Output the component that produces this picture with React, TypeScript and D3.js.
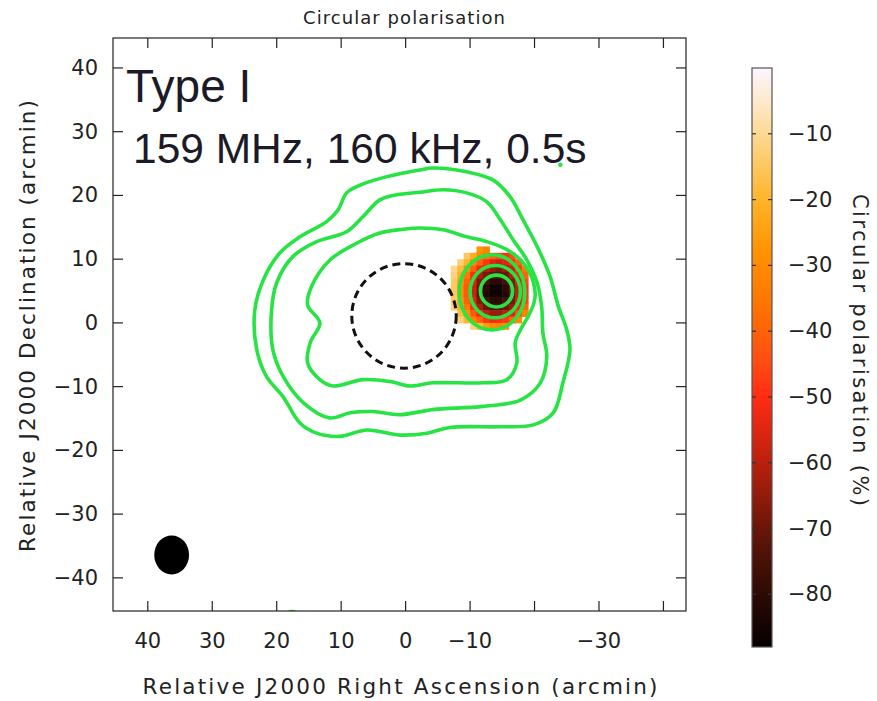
import { select, scaleLinear, line, curveCatmullRomClosed } from "d3";
import { useEffect, useRef } from "react";

// axis ticks (arcmin)
const raTicks = [40, 30, 20, 10, 0, -10, -20, -30, -40];
const raLabels = ["40", "30", "20", "10", "0", "−10", "", "−30", ""];
const decTicks = [40, 30, 20, 10, 0, -10, -20, -30, -40];
const decLabels = ["40", "30", "20", "10", "0", "−10", "−20", "−30", "−40"];
const cbTicks = [-10, -20, -30, -40, -50, -60, -70, -80];

// colour map for circular polarisation (%)
const cmapValues = [0, -5, -12, -20, -28, -36, -44, -50, -56, -64, -72, -80, -88];
const cmapColours = ["#fbf6ff", "#fde9cc", "#fdd27e", "#ffb42a", "#ff9200", "#ff7400",
  "#ff5010", "#ff2c14", "#d82410", "#9a1c0a", "#5a1408", "#2c0a04", "#050000"];

// Stokes I contours, [RA, Dec] arcmin
const outerContour = [
  [23.4, 2.0], [22.1, 6.7], [19.5, 11.0], [16.4, 13.5], [12.25, 15.9], [10.5, 17.7],
  [9.15, 20.4], [7.1, 21.6], [2.9, 22.95], [-2.2, 24.0], [-4.25, 24.3], [-9.5, 23.7],
  [-13.6, 22.4], [-16.2, 19.8], [-18.2, 16.2], [-20.4, 12.0], [-22.4, 7.3], [-23.7, 2.6],
  [-25.0, -1.1], [-25.5, -4.2], [-24.4, -9.4], [-22.9, -14.1], [-19.8, -16.0], [-14.7, -16.3],
  [-6.9, -16.4], [-3.3, -17.3], [0.9, -17.6], [6.0, -16.8], [10.2, -17.8], [13.8, -17.3],
  [16.4, -15.7], [19.0, -11.6], [21.6, -8.4], [23.1, -4.2]
];
const middleContour = [
  [20.8, 2.0], [20.0, 6.3], [17.5, 10.4], [13.8, 12.75], [9.15, 14.3], [6.6, 16.7],
  [4.0, 19.3], [1.4, 20.1], [-2.2, 20.5], [-5.8, 20.9], [-9.5, 20.4], [-12.6, 19.0],
  [-14.7, 16.2], [-16.7, 13.0], [-18.8, 9.9], [-20.4, 6.3], [-21.1, 2.6], [-21.3, -1.6],
  [-21.9, -5.3], [-20.9, -9.4], [-17.8, -12.1], [-12.0, -13.1], [-4.2, -13.6], [0.9, -14.4],
  [5.1, -13.9], [8.6, -14.1], [11.8, -14.9], [15.9, -12.5], [19.0, -8.4], [20.6, -4.2]
];
const innerContour = [
  [15.2, 2.8], [14.6, 5.7], [11.7, 9.9], [7.6, 12.5], [4.0, 14.1], [0.4, 14.7],
  [-2.2, 14.9], [-5.8, 14.6], [-9.5, 13.5], [-12.6, 12.75], [-15.7, 11.5], [-17.8, 9.9],
  [-19.3, 7.8], [-20.1, 4.7], [-19.9, 3.1], [-19.0, 1.0], [-17.8, -1.1], [-17.0, -3.1],
  [-17.25, -6.3], [-15.7, -8.9], [-12.0, -9.4], [-4.25, -9.4], [-0.7, -9.9], [2.4, -9.2],
  [6.6, -8.9], [11.3, -9.9], [13.3, -8.9], [15.2, -6.3], [14.8, -3.1], [13.3, 0.0]
];
// compact rings round the burst source: centre RA, Dec, radii
const ringRa = [-14.1, -13.9, -13.4];
const ringDec = [5.0, 4.9, 4.8];
const ringRx = [2.5, 3.9, 5.1];
const ringRy = [2.5, 4.1, 5.9];
// small contour fragments
const specks = [[-24.0, 24.8, 0.35, 0.35], [17.6, -45.6, 1.0, 0.6]];

// circular polarisation image of the source (%), 1 arcmin cells
const blobRa = [-7.5, -8.5, -9.5, -10.5, -11.5, -12.5, -13.5, -14.5, -15.5, -16.5, -17.5, -18.5];
const blobDec = [11.5, 10.5, 9.5, 8.5, 7.5, 6.5, 5.5, 4.5, 3.5, 2.5, 1.5, 0.5, -0.5];
const blobValues = [
  [null, null, null, null, -28, -32, null, null, null, null, null, null],
  [null, null, -15, -22, -30, -35, -40, -45, -50, -45, null, null],
  [null, -12, -20, -30, -40, -48, -55, -58, -55, -50, -40, null],
  [-10, -18, -28, -40, -52, -60, -65, -68, -64, -58, -48, -35],
  [-12, -22, -35, -50, -62, -68, -72, -72, -70, -62, -52, -40],
  [-14, -25, -40, -55, -68, -76, -80, -80, -76, -68, -58, -45],
  [-15, -28, -42, -58, -70, -80, -86, -86, -80, -70, -60, -48],
  [-15, -28, -42, -58, -72, -82, -86, -86, -82, -72, -60, -48],
  [-14, -26, -40, -55, -68, -76, -80, -80, -76, -68, -58, -46],
  [-12, -22, -35, -50, -62, -70, -74, -74, -70, -64, -52, -40],
  [null, -18, -28, -42, -52, -60, -64, -64, -60, -55, -45, -32],
  [null, -12, -20, -32, -40, -48, -52, -50, -48, -40, -30, null],
  [null, null, null, -12, -18, -25, -30, -32, -28, null, null, null]
];

// solar disc and beam: RA, Dec, rx, ry
const solarDisc = [0.25, 1.1, 8.1, 8.2];
const beam = [36.3, -36.4, 2.7, 3.06];

const W = 877, H = 701;
const FONT = "DejaVu Sans";
const GREEN = "#27e344";

export default function App() {
  const ref = useRef(null);

  useEffect(() => {
    if (!ref.current) return;
    const svg = select(ref.current);
    svg.selectAll("*").remove();

    const x = scaleLinear().domain([45.4, -43.5]).range([113, 686]);
    const y = scaleLinear().domain([44.7, -45.2]).range([38, 611]);
    const cmap = scaleLinear<string>().domain(cmapValues).range(cmapColours);

    const defs = svg.append("defs");
    defs.append("clipPath").attr("id", "plotclip")
      .append("rect").attr("x", 113).attr("y", 38).attr("width", 573).attr("height", 573);

    const plot = svg.append("g").attr("clip-path", "url(#plotclip)");

    // polarisation image
    blobValues.forEach((row, j) => {
      row.forEach((v, i) => {
        if (v === null) return;
        const x0 = x(blobRa[i] + 0.5), x1 = x(blobRa[i] - 0.5);
        const y0 = y(blobDec[j] + 0.5), y1 = y(blobDec[j] - 0.5);
        plot.append("rect")
          .attr("x", x0).attr("y", y0)
          .attr("width", x1 - x0 + 0.5).attr("height", y1 - y0 + 0.5)
          .attr("fill", cmap(v));
      });
    });

    // contours
    const path = line().x((d) => x(d[0])).y((d) => y(d[1])).curve(curveCatmullRomClosed.alpha(0.5));
    [outerContour, middleContour, innerContour].forEach((c) => {
      plot.append("path").attr("d", path(c))
        .attr("fill", "none").attr("stroke", GREEN).attr("stroke-width", 3.6);
    });
    ringRa.forEach((ra, k) => {
      plot.append("ellipse")
        .attr("cx", x(ra)).attr("cy", y(ringDec[k]))
        .attr("rx", Math.abs(x(ringRx[k]) - x(0))).attr("ry", Math.abs(y(ringRy[k]) - y(0)))
        .attr("fill", "none").attr("stroke", GREEN).attr("stroke-width", 3.6);
    });
    specks.forEach((s) => {
      plot.append("ellipse")
        .attr("cx", x(s[0])).attr("cy", y(s[1]))
        .attr("rx", Math.abs(x(s[2]) - x(0))).attr("ry", Math.abs(y(s[3]) - y(0)))
        .attr("fill", GREEN);
    });

    // solar disc
    plot.append("ellipse")
      .attr("cx", x(solarDisc[0])).attr("cy", y(solarDisc[1]))
      .attr("rx", Math.abs(x(solarDisc[2]) - x(0))).attr("ry", Math.abs(y(solarDisc[3]) - y(0)))
      .attr("fill", "none").attr("stroke", "#111").attr("stroke-width", 3)
      .attr("stroke-dasharray", "8,5");

    // beam
    plot.append("ellipse")
      .attr("cx", x(beam[0])).attr("cy", y(beam[1]))
      .attr("rx", Math.abs(x(beam[2]) - x(0))).attr("ry", Math.abs(y(beam[3]) - y(0)))
      .attr("fill", "#000");

    // frame and ticks
    svg.append("rect").attr("x", 113).attr("y", 38).attr("width", 573).attr("height", 573)
      .attr("fill", "none").attr("stroke", "#222").attr("stroke-width", 1.2);
    const tl = 10;
    raTicks.forEach((t, k) => {
      svg.append("line").attr("x1", x(t)).attr("x2", x(t)).attr("y1", 38).attr("y2", 38 + tl)
        .attr("stroke", "#222").attr("stroke-width", 1.2);
      svg.append("line").attr("x1", x(t)).attr("x2", x(t)).attr("y1", 611).attr("y2", 611 - tl)
        .attr("stroke", "#222").attr("stroke-width", 1.2);
      svg.append("text").attr("x", x(t)).attr("y", 648).attr("text-anchor", "middle")
        .attr("font-family", FONT).attr("font-size", 21).attr("fill", "#222").text(raLabels[k]);
    });
    decTicks.forEach((t, k) => {
      svg.append("line").attr("x1", 113).attr("x2", 113 + tl).attr("y1", y(t)).attr("y2", y(t))
        .attr("stroke", "#222").attr("stroke-width", 1.2);
      svg.append("line").attr("x1", 686).attr("x2", 686 - tl).attr("y1", y(t)).attr("y2", y(t))
        .attr("stroke", "#222").attr("stroke-width", 1.2);
      svg.append("text").attr("x", 98).attr("y", y(t) + 7).attr("text-anchor", "end")
        .attr("font-family", FONT).attr("font-size", 21).attr("fill", "#222").text(decLabels[k]);
    });

    // titles
    svg.append("text").attr("x", 404).attr("y", 24).attr("text-anchor", "middle")
      .attr("font-family", FONT).attr("font-size", 18).attr("fill", "#222")
      .attr("textLength", 202).attr("lengthAdjust", "spacing").text("Circular polarisation");
    svg.append("text").attr("x", 400).attr("y", 694).attr("text-anchor", "middle")
      .attr("font-family", FONT).attr("font-size", 21.5).attr("fill", "#222")
      .attr("textLength", 515).attr("lengthAdjust", "spacing")
      .text("Relative J2000 Right Ascension (arcmin)");
    svg.append("text").attr("transform", "translate(35,326) rotate(-90)").attr("text-anchor", "middle")
      .attr("font-family", FONT).attr("font-size", 21.5).attr("fill", "#222")
      .attr("textLength", 452).attr("lengthAdjust", "spacing")
      .text("Relative J2000 Declination (arcmin)");

    svg.append("text").attr("x", 126).attr("y", 102)
      .attr("font-family", "Liberation Sans").attr("font-size", 46).attr("fill", "#1c1a26").text("Type I");
    svg.append("text").attr("x", 133).attr("y", 163)
      .attr("font-family", "Liberation Sans").attr("font-size", 42.5).attr("fill", "#1c1a26")
      .text("159 MHz, 160 kHz, 0.5s");

    // colour bar
    const cy = scaleLinear().domain([0, -88]).range([68, 647]);
    const grad = defs.append("linearGradient").attr("id", "cbgrad")
      .attr("x1", 0).attr("x2", 0).attr("y1", 0).attr("y2", 1);
    cmapValues.forEach((v, k) => {
      grad.append("stop").attr("offset", (cy(v) - 68) / (647 - 68)).attr("stop-color", cmapColours[k]);
    });
    svg.append("rect").attr("x", 752).attr("y", 68).attr("width", 20).attr("height", 579)
      .attr("fill", "url(#cbgrad)").attr("stroke", "#555").attr("stroke-width", 1.2);
    cbTicks.forEach((t) => {
      svg.append("line").attr("x1", 752).attr("x2", 756).attr("y1", cy(t)).attr("y2", cy(t))
        .attr("stroke", "#333").attr("stroke-width", 1.2);
      svg.append("line").attr("x1", 772).attr("x2", 768).attr("y1", cy(t)).attr("y2", cy(t))
        .attr("stroke", "#333").attr("stroke-width", 1.2);
      svg.append("text").attr("x", 788).attr("y", cy(t) + 7)
        .attr("font-family", FONT).attr("font-size", 21).attr("fill", "#222").text("−" + Math.abs(t));
    });
    svg.append("text").attr("transform", "translate(853,350) rotate(90)").attr("text-anchor", "middle")
      .attr("font-family", FONT).attr("font-size", 21).attr("fill", "#222")
      .attr("textLength", 312).attr("lengthAdjust", "spacing")
      .text("Circular polarisation (%)");
  }, []);

  return (
    <svg ref={ref} width={W} height={H}
      style={{ position: "absolute", left: 0, top: 0, background: "#fff" }} />
  );
}
